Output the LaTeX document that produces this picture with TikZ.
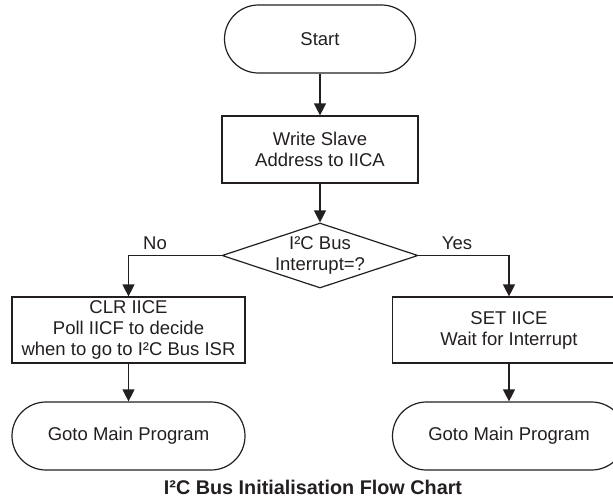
\documentclass[tikz,border=0pt]{standalone}
\usepackage{fontspec}
\setmainfont{Liberation Sans}
\usetikzlibrary{arrows.meta,shapes.geometric}
\definecolor{ink}{HTML}{231F20}
\begin{document}
\begin{tikzpicture}[x=1pt,y=-1pt,
  every node/.style={text=ink},
  txt/.style={font=\fontsize{18.5}{21}\selectfont, align=center, inner sep=0pt},
  term/.style={txt, draw=ink, line width=1.2pt, rounded corners=34pt, minimum width=233pt, minimum height=68pt},
  proc/.style={txt, draw=ink, line width=1.2pt, minimum width=233pt, minimum height=66pt},
  dec/.style={diamond, draw=ink, line width=1.2pt, minimum width=196pt, minimum height=65pt, inner sep=0pt},
  arr/.style={draw=ink, line width=1.2pt, -{Triangle[length=12pt,width=12pt]}}]
\path[clip] (0,0) rectangle (613,499);
\node[term, minimum width=191pt] (start) at (320,39) {Start};
\node[proc, minimum width=196pt, minimum height=67pt] (write) at (320,149.5) {Write Slave\\Address to IICA};
\node[dec] (dec) at (320,255.5) {};
\node[txt] (dectext) at (dec) {I²C Bus\\Interrupt=?};
\node[proc] (clr) at (128.5,330) {\fontsize{18.5}{18.5}\selectfont CLR IICE\\Poll IICF to decide\\when to go to I²C Bus ISR};
\node[proc] (set) at (509,330) {SET IICE\\Wait for Interrupt};
\node[term] (endl) at (128.5,436) {Goto Main Program};
\node[term] (endr) at (509,436) {Goto Main Program};
\node[txt] (no) at (155,243) {No};
\node[txt] (yes) at (457,243) {Yes};
\node[txt, font=\fontsize{19.8}{21}\selectfont\bfseries] (title) at (313,487) {I²C Bus Initialisation Flow Chart};
\draw[arr] (start) -- (write);
\draw[arr] (write) -- (dec);
\draw[arr] (dec.west) -| (clr.north);
\draw[arr] (dec.east) -| (set.north);
\draw[arr] (clr) -- (endl);
\draw[arr] (set) -- (endr);
\end{tikzpicture}
\end{document}
